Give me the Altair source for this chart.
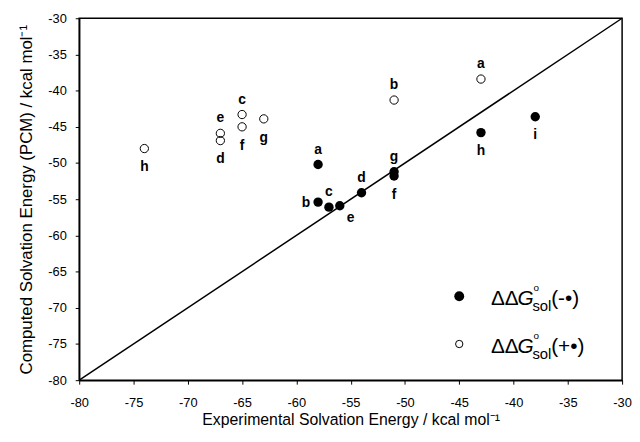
import altair as alt
import pandas as pd

# ---- data ----
filled_labels = ["a", "b", "c", "d", "e", "f", "g", "h", "i"]
filled_x = [-58, -58, -57, -54, -56, -51, -51, -43, -38]
filled_y = [-50.2, -55.4, -56.1, -54.1, -55.9, -51.8, -51.2, -45.8, -43.6]
filled_place = ["above", "left", "above", "above", "below-right", "below", "above", "below", "below"]

open_labels = ["a", "b", "c", "d", "e", "f", "g", "h"]
open_x = [-43, -51, -65, -67, -67, -65, -63, -74]
open_y = [-38.4, -41.3, -43.3, -46.9, -45.9, -45.0, -43.9, -48.0]
open_place = ["above", "above", "above", "below", "above", "below", "below", "below"]

diag_vals = [-80, -30]
tick_vals = list(range(-80, -25, 5))

legend_series = ["(-\u2022)", "(+\u2022)"]
legend_kind = ["filled", "open"]
legend_x = [-45, -45]
legend_y = [-68.4, -75.0]

FONT = "Liberation Sans"

pts = pd.concat([
    pd.DataFrame({"x": filled_x, "y": filled_y, "label": filled_labels,
                  "place": filled_place, "kind": "filled"}),
    pd.DataFrame({"x": open_x, "y": open_y, "label": open_labels,
                  "place": open_place, "kind": "open"}),
], ignore_index=True)
diag = pd.DataFrame({"x": diag_vals, "y": diag_vals})
leg = pd.DataFrame({"x": legend_x, "y": legend_y, "series": legend_series, "kind": legend_kind})

xs = alt.Scale(domain=[-80, -30], nice=False, zero=False)
ys = alt.Scale(domain=[-80, -30], nice=False, zero=False)

X = alt.X("x:Q", scale=xs, axis=alt.Axis(
    values=tick_vals, labelExpr="datum.value + ''",
    title="Experimental Solvation Energy / kcal mol\u207b\u00b9",
    grid=False, tickSize=4, labelPadding=13,
    titleY=45, titleBaseline="alphabetic",
    labelFontSize=13, titleFontSize=16, labelFlush=False))
Y = alt.Y("y:Q", scale=ys, axis=alt.Axis(
    values=tick_vals, labelExpr="datum.value + ''",
    title="Computed Solvation Energy (PCM) / kcal mol\u207b\u00b9",
    grid=False, tickSize=4, labelPadding=9, titlePadding=12,
    labelFontSize=13, titleFontSize=17, labelFlush=False))

base = alt.Chart(pts)

line = alt.Chart(diag).mark_line(color="black", strokeWidth=1.5).encode(x=X, y=Y)

filled = base.transform_filter(alt.datum.kind == "filled").mark_circle(
    size=90, color="black", opacity=1).encode(x=X, y=Y)
opened = base.transform_filter(alt.datum.kind == "open").mark_point(
    shape="circle", size=70, color="black", strokeWidth=1, filled=False, opacity=1).encode(x=X, y=Y)

offsets = {
    "above": dict(dx=0, dy=-11, align="center"),
    "below": dict(dx=0, dy=23, align="center"),
    "left": dict(dx=-8, dy=5, align="right"),
    "below-right": dict(dx=11, dy=16, align="center"),
}
label_layers = []
for p, o in offsets.items():
    label_layers.append(
        base.transform_filter(alt.datum.place == p).mark_text(
            font=FONT, fontSize=14, fontWeight="bold", color="black",
            baseline="alphabetic", **o).encode(x=X, y=Y, text="label:N"))

lb = alt.Chart(leg)
leg_filled = lb.transform_filter(alt.datum.kind == "filled").mark_circle(
    size=100, color="black", opacity=1).encode(x=X, y=Y)
leg_open = lb.transform_filter(alt.datum.kind == "open").mark_point(
    shape="circle", size=55, color="black", strokeWidth=1, filled=False, opacity=1).encode(x=X, y=Y)
seg_dd = lb.mark_text(text="\u0394\u0394", font=FONT, fontSize=21, align="left",
                      baseline="alphabetic", dx=32, dy=9, color="black").encode(x=X, y=Y)
seg_g = lb.mark_text(text="G", font=FONT, fontSize=21, fontStyle="italic", align="left",
                     baseline="alphabetic", dx=59, dy=9, color="black").encode(x=X, y=Y)
seg_deg = lb.mark_text(text="o", font=FONT, fontSize=10, align="left",
                       baseline="alphabetic", dx=75, dy=-5, color="black").encode(x=X, y=Y)
seg_sol = lb.mark_text(text="sol", font=FONT, fontSize=15, align="left",
                       baseline="alphabetic", dx=74, dy=15, color="black").encode(x=X, y=Y)
seg_ser = lb.mark_text(font=FONT, fontSize=21, align="left",
                       baseline="alphabetic", dx=93, dy=9, color="black").encode(
    x=X, y=Y, text="series:N")

chart = alt.layer(
    line, filled, opened, *label_layers,
    leg_filled, leg_open, seg_dd, seg_g, seg_deg, seg_sol, seg_ser
).properties(
    width=549, height=366,
    autosize=alt.AutoSizeParams(type="none"),
    padding={"left": 72, "top": 8, "right": 10, "bottom": 48},
).configure_view(
    stroke="black", strokeWidth=1.5
).configure_axis(
    domainColor="black", domainWidth=1.5, tickColor="black", tickWidth=1,
    labelColor="black", titleColor="black", labelFont=FONT, titleFont=FONT,
    titleFontWeight="normal"
)

chart.save("out.html", embed_options={"renderer": "svg", "actions": False})
